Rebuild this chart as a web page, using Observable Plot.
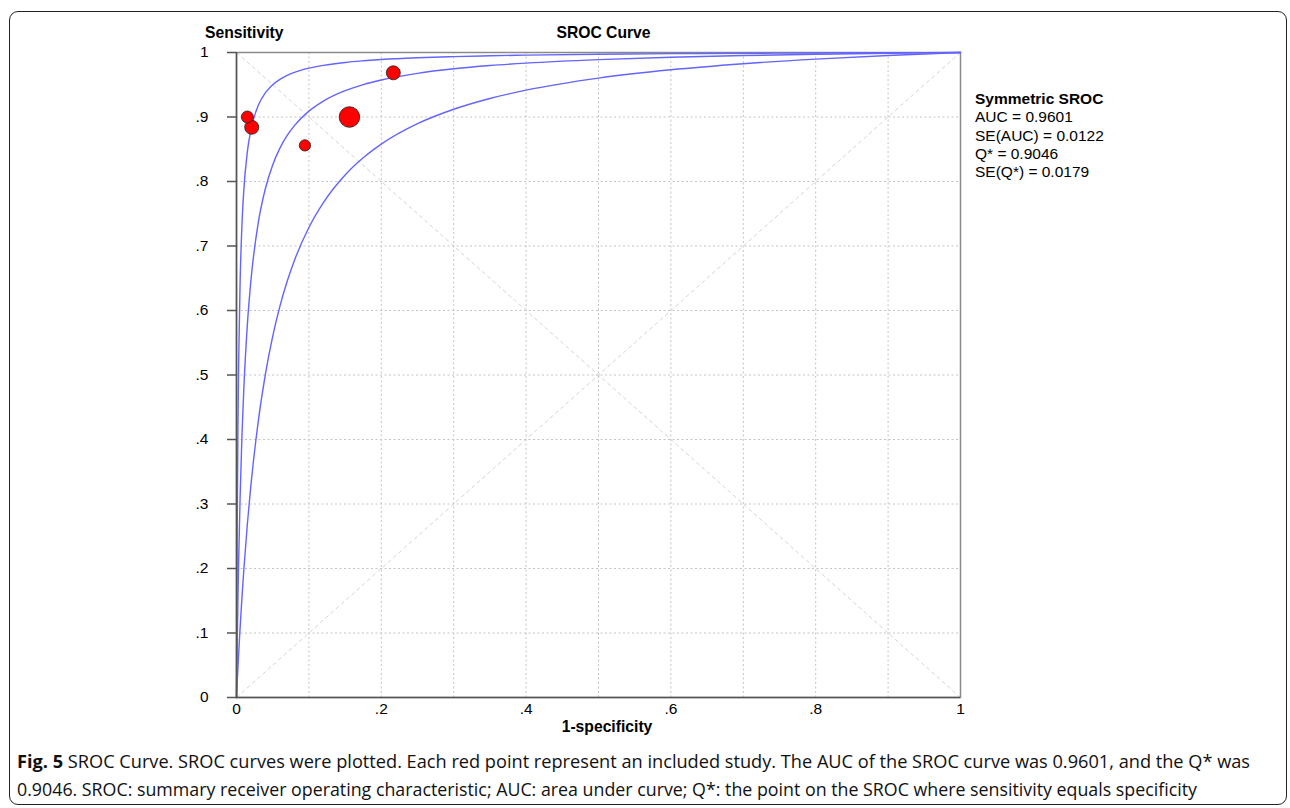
<!DOCTYPE html>
<html>
<head>
<meta charset="utf-8">
<script src="https://cdn.jsdelivr.net/npm/d3@7"></script>
<script src="https://cdn.jsdelivr.net/npm/@observablehq/plot@0.6"></script>
<style>
  html, body { margin: 0; padding: 0; background: #fff; }
  body { width: 1290px; height: 808px; position: relative; overflow: hidden; font-family: "Liberation Sans", Arial, sans-serif; }
  #frame { position: absolute; left: 9px; top: 11px; width: 1278px; height: 794px; border: 1.4px solid #222; border-radius: 9px; box-sizing: border-box; }
  #chart { position: absolute; left: 0; top: 0; }
  .lbl { position: absolute; font-family: "Liberation Sans", Arial, sans-serif; color: #000; white-space: nowrap; font-size: 15.7px; line-height: 18px; }
  .bold { font-weight: bold; }
  #legend { position: absolute; left: 975px; top: 90px; font-family: "Liberation Sans", Arial, sans-serif; font-size: 15.5px; line-height: 18.3px; color: #000; }
  .cap { position: absolute; left: 17px; font-family: "Open Sans", "Noto Sans", sans-serif; font-size: 17.5px; color: #111; white-space: nowrap; transform-origin: 0 50%; }
</style>
</head>
<body>
<div id="frame"></div>
<div id="chart"></div>
<div class="lbl bold" style="left:205px; top:24px;">Sensitivity</div>
<div class="lbl bold" id="title" style="left:556px; top:24px;">SROC Curve</div>
<div class="lbl bold" id="xlab" style="left:561px; top:718px;">1-specificity</div>
<div id="legend">
  <div class="bold">Symmetric SROC</div>
  <div>AUC = 0.9601</div>
  <div>SE(AUC) = 0.0122</div>
  <div>Q* = 0.9046</div>
  <div>SE(Q*) = 0.0179</div>
</div>
<div class="cap" id="cap1" style="top:749px;"><b>Fig. 5</b> SROC Curve. SROC curves were plotted. Each red point represent an included study. The AUC of the SROC curve was 0.9601, and the Q* was</div>
<div class="cap" id="cap2" style="top:777px;">0.9046. SROC: summary receiver operating characteristic; AUC: area under curve; Q*: the point on the SROC where sensitivity equals specificity</div>
<script>
// ---- Data ----
const ticks = [0, 0.1, 0.2, 0.3, 0.4, 0.5, 0.6, 0.7, 0.8, 0.9, 1];
const xTickValues = [0, 0.2, 0.4, 0.6, 0.8, 1];
const xTickLabels = ["0", ".2", ".4", ".6", ".8", "1"];
const yTickLabels = ["0", ".1", ".2", ".3", ".4", ".5", ".6", ".7", ".8", ".9", "1"];

// Studies: 1-specificity, sensitivity, relative weight (dot size)
const studyFpr  = [0.015, 0.021, 0.0945, 0.156, 0.2166];
const studySens = [0.900, 0.884, 0.856, 0.900, 0.9685];
const studyWeight = [36, 49, 32, 106, 49];

// SROC curves (1-specificity, sensitivity)
const curveFpr = [0, 0.0005, 0.001, 0.002, 0.003, 0.005, 0.0075, 0.01, 0.015, 0.02, 0.03, 0.04, 0.05, 0.06, 0.07, 0.08, 0.1, 0.12, 0.15, 0.175, 0.2, 0.25, 0.3, 0.35, 0.4, 0.5, 0.6, 0.7, 0.8, 0.9, 1];
const upperSens  = [0, 0.1531, 0.2657, 0.4200, 0.5210, 0.6449, 0.7320, 0.7850, 0.8462, 0.8806, 0.9179, 0.9377, 0.9501, 0.9584, 0.9645, 0.9692, 0.9757, 0.9801, 0.9846, 0.9871, 0.9891, 0.9918, 0.9936, 0.9949, 0.9959, 0.9972, 0.9982, 0.9988, 0.9993, 0.9997, 1];
const middleSens = [0, 0.0431, 0.0826, 0.1528, 0.2131, 0.3114, 0.4048, 0.4762, 0.5781, 0.6475, 0.7357, 0.7895, 0.8257, 0.8517, 0.8714, 0.8867, 0.9091, 0.9247, 0.9408, 0.9502, 0.9574, 0.9677, 0.9747, 0.9798, 0.9836, 0.9890, 0.9926, 0.9953, 0.9972, 0.9988, 1];
const lowerSens  = [0, 0.0119, 0.0236, 0.0462, 0.0678, 0.1083, 0.1545, 0.1962, 0.2691, 0.3304, 0.4278, 0.5018, 0.5599, 0.6067, 0.6453, 0.6776, 0.7287, 0.7672, 0.8101, 0.8368, 0.8580, 0.8896, 0.9120, 0.9287, 0.9416, 0.9603, 0.9732, 0.9826, 0.9898, 0.9954, 1];

// Reference diagonals
const refLines = [{x1: 0, y1: 0, x2: 1, y2: 1}, {x1: 0, y1: 1, x2: 1, y2: 0}];

// ---- Build tables ----
const studies = studyFpr.map((x, i) => ({x, y: studySens[i], w: studyWeight[i]}));
const curves = [
  ...curveFpr.map((x, i) => ({x, y: upperSens[i], c: "upper"})),
  ...curveFpr.map((x, i) => ({x, y: middleSens[i], c: "middle"})),
  ...curveFpr.map((x, i) => ({x, y: lowerSens[i], c: "lower"}))
];
const inner = ticks.filter(t => t > 0 && t < 1);

const W = 1290, H = 745;
const chart = Plot.plot({
  width: W,
  height: H,
  marginLeft: 236,
  marginRight: 330,
  marginTop: 52,
  marginBottom: H - 697,
  style: {fontFamily: "Liberation Sans, Arial, sans-serif", fontSize: "15.5px", background: "transparent", color: "#000"},
  x: {domain: [0, 1]},
  y: {domain: [0, 1]},
  r: {type: "sqrt", domain: [0, d3.max(studyWeight)], range: [0, 10.3]},
  marks: [
    Plot.gridX(inner, {stroke: "#c4c4c4", strokeOpacity: 1, strokeDasharray: "2,2.5", strokeWidth: 1}),
    Plot.gridY(inner, {stroke: "#c4c4c4", strokeOpacity: 1, strokeDasharray: "2,2.5", strokeWidth: 1}),
    Plot.link(refLines, {x1: "x1", y1: "y1", x2: "x2", y2: "y2", stroke: "#d4d4d4", strokeDasharray: "4,3", strokeWidth: 1}),
    Plot.frame({stroke: "#8a8a8a", strokeWidth: 1.5}),
    Plot.line(curves, {x: "x", y: "y", z: "c", stroke: "#6464ff", strokeWidth: 1.4, curve: "monotone-x"}),
    Plot.axisY(ticks, {tickFormat: (d, i) => yTickLabels[i], tickSize: 9, tickPadding: 19, stroke: "#555", strokeWidth: 1.5, label: null, fontSize: 15.5}),
    Plot.axisX(xTickValues, {tickFormat: (d, i) => xTickLabels[i], tickSize: 0, tickPadding: 5, label: null, fontSize: 15.5}),
    Plot.ruleX([0], {stroke: "#555", strokeWidth: 1.5}),
    Plot.ruleY([0], {stroke: "#555", strokeWidth: 1.5}),
    Plot.dot(studies, {x: "x", y: "y", r: "w", fill: "#ff0000", stroke: "#222", strokeWidth: 0.8})
  ]
});
document.getElementById("chart").appendChild(chart);

// center titles on reference positions
function center(id, cx) {
  const el = document.getElementById(id);
  const w = el.getBoundingClientRect().width;
  el.style.left = (cx - w / 2) + "px";
}
center("title", 603.5);
center("xlab", 607);

// caption width fit to reference line lengths
function fit(id, target) {
  const el = document.getElementById(id);
  const w = el.getBoundingClientRect().width;
  el.style.transform = `scaleX(${target / w})`;
}
fit("cap1", 1233);
fit("cap2", 1180);
</script>
</body>
</html>
